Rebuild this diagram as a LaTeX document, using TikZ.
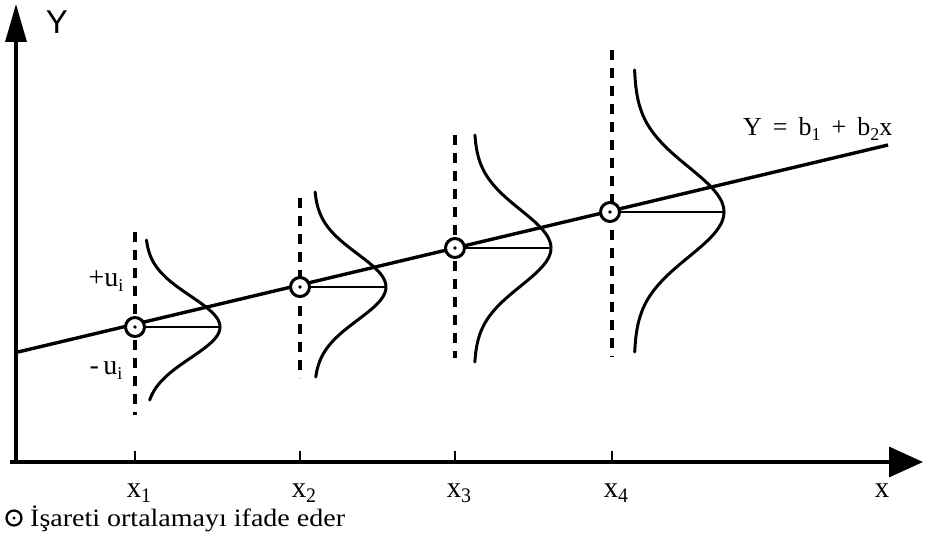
\documentclass[tikz,border=0pt]{standalone}
\usepackage{fontspec}
\setmainfont{Liberation Serif}
\newfontfamily\axsans{Liberation Sans}
\usetikzlibrary{arrows.meta}
\newcommand\lowsub[1]{\raisebox{-0.4ex}{\fontsize{18}{18}\selectfont #1}}
\tikzset{
  axisline/.style={line width=3.4pt},
  regline/.style={line width=3.4pt},
  bell/.style={line width=3pt, line cap=round},
  guide/.style={line width=3.6pt, dash pattern=on 10pt off 8pt},
  meanpt/.style={circle, draw, fill=white, line width=3pt, minimum size=19pt, inner sep=0pt},
  peakline/.style={line width=2.4pt},
  lbl/.style={font=\fontsize{26}{26}\selectfont, inner sep=0pt},
  tick/.style={line width=1.6pt}
}
\begin{document}
\begin{tikzpicture}[x=1pt,y=-1pt]
\useasboundingbox (0,0) rectangle (925,540);
% axes
\coordinate (O) at (16,462);
\coordinate (Ytip) at (16,4);
\coordinate (Xtip) at (923,462);
\draw[axisline,-{Triangle[length=38pt,width=21pt]}] (O) -- (Ytip);
\draw[axisline,-{Triangle[length=34pt,width=30pt]}] (10,462) -- (Xtip);
\node[font=\axsans\fontsize{33}{33}\selectfont, inner sep=0pt] (Ylab) at (57,22) {Y};
% ticks and x labels
\foreach \xx/\nm in {135/1,300/2,455/3,612/4}{
  \draw[tick] (\xx,451) -- (\xx,462);
  \node[lbl, anchor=base] (xl\nm) at (\xx+4,497) {\scalebox{1.1}[1.15]{x\lowsub{\nm}}};
}
\node[lbl, anchor=base] (xlab) at (882,497) {\scalebox{1.1}[1.15]{x}};
% guides
\draw[guide] (135,232) -- (135,415);
\draw[guide] (300,198) -- (300,378);
\draw[guide] (455,135) -- (455,358);
\draw[guide] (612,50) -- (612,357);
% regression line
\coordinate (L0) at (18,352);
\coordinate (L1) at (888,145);
\draw[regline] (L0) -- (L1);
\node[lbl, anchor=base west] (eq) at (743,136) {Y\hspace{11pt}=\hspace{11pt}b\lowsub{1}\hspace{11pt}+\hspace{11pt}b\lowsub{2}x};
% bells
\draw[bell] plot[domain=240:400, samples=80] ({145+75*exp(-((\x-327)/31)^2/2)}, \x);
\draw[bell] plot[domain=192:377, samples=80] ({314+72*exp(-((\x-287)/33)^2/2)}, \x);
\draw[bell] plot[domain=135:362, samples=80] ({474+77*exp(-((\x-248)/38)^2/2)}, \x);
\draw[bell] plot[domain=70:352, samples=80] ({634+90*exp(-((\x-212)/45)^2/2)}, \x);
% mean points
\node[meanpt] (m1) at (135,327) {};
\node[meanpt] (m2) at (300,287) {};
\node[meanpt] (m3) at (455,248) {};
\node[meanpt] (m4) at (610,212) {};
\foreach \i in {1,2,3,4}{\fill (m\i.center) circle (1.8pt);}
\coordinate (p1) at (220,327);
\coordinate (p2) at (386,287);
\coordinate (p3) at (551,248);
\coordinate (p4) at (724,212);
\foreach \i in {1,2,3,4}{\draw[peakline] (m\i.east) -- (p\i);}
% u labels
\node[lbl, font=\fontsize{28}{28}\selectfont] (up) at (106,281) {+u\lowsub{i}};
\node[lbl, font=\fontsize{28}{28}\selectfont] (um) at (106,371) {-\,u\lowsub{i}};
% legend
\node[circle, draw, line width=2.2pt, minimum size=15pt, inner sep=0pt] (leg) at (14,518) {};
\fill (leg.center) circle (1.6pt);
\node[lbl, anchor=base west, font=\fontsize{25}{25}\selectfont] (legt) at (30,526) {\scalebox{1.12}[1]{İşareti ortalamayı ifade eder}};
\end{tikzpicture}
\end{document}
